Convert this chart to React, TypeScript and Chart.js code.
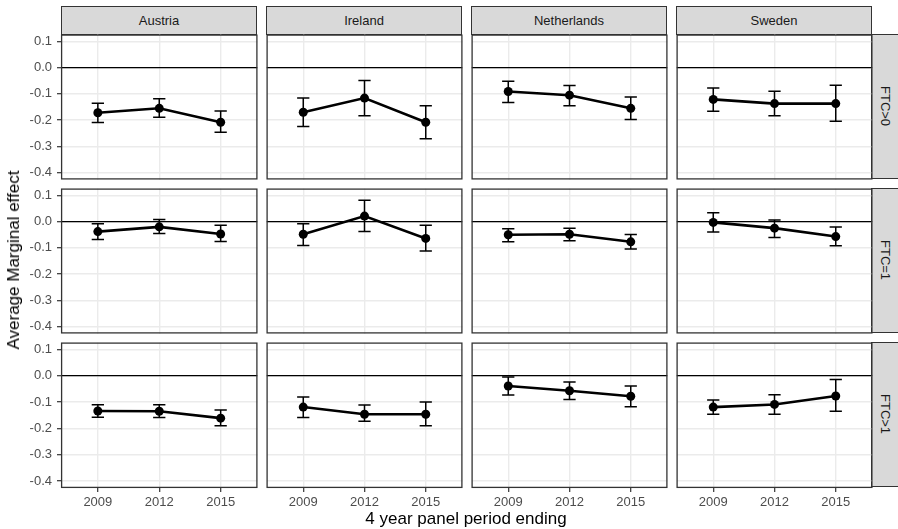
import React, { useEffect, useRef } from "react";
import { Chart, registerables } from "chart.js";

Chart.register(...registerables);

// ---------- data ----------
const countries = ["Austria", "Ireland", "Netherlands", "Sweden"];
const groups = ["FTC>0", "FTC=1", "FTC>1"];
const years = [2009, 2012, 2015];
const xTickLabels = ["2009", "2012", "2015"];
const yTicks = [-0.4, -0.3, -0.2, -0.1, 0.0, 0.1];

// rows: country (Austria, Ireland, Netherlands, Sweden); columns: 2009, 2012, 2015
const ftc0Est = [
  [-0.172, -0.155, -0.208],
  [-0.170, -0.116, -0.208],
  [-0.091, -0.105, -0.155],
  [-0.121, -0.137, -0.137],
];
const ftc0Lo = [
  [-0.209, -0.189, -0.246],
  [-0.224, -0.183, -0.271],
  [-0.133, -0.145, -0.198],
  [-0.166, -0.183, -0.204],
];
const ftc0Hi = [
  [-0.136, -0.119, -0.165],
  [-0.116, -0.049, -0.145],
  [-0.052, -0.068, -0.112],
  [-0.078, -0.090, -0.067],
];

const ftc1Est = [
  [-0.038, -0.020, -0.047],
  [-0.048, 0.021, -0.064],
  [-0.050, -0.048, -0.077],
  [-0.003, -0.025, -0.057],
];
const ftc1Lo = [
  [-0.068, -0.045, -0.076],
  [-0.091, -0.038, -0.112],
  [-0.077, -0.073, -0.104],
  [-0.040, -0.061, -0.092],
];
const ftc1Hi = [
  [-0.008, 0.008, -0.014],
  [-0.008, 0.081, -0.014],
  [-0.027, -0.025, -0.049],
  [0.034, 0.006, -0.021],
];

const ftcGt1Est = [
  [-0.134, -0.135, -0.161],
  [-0.119, -0.146, -0.146],
  [-0.039, -0.057, -0.078],
  [-0.119, -0.109, -0.077],
];
const ftcGt1Lo = [
  [-0.158, -0.159, -0.190],
  [-0.159, -0.173, -0.190],
  [-0.073, -0.090, -0.118],
  [-0.146, -0.146, -0.135],
];
const ftcGt1Hi = [
  [-0.110, -0.110, -0.130],
  [-0.081, -0.111, -0.100],
  [-0.005, -0.024, -0.039],
  [-0.092, -0.072, -0.014],
];

const estByGroup = [ftc0Est, ftc1Est, ftcGt1Est];
const loByGroup = [ftc0Lo, ftc1Lo, ftcGt1Lo];
const hiByGroup = [ftc0Hi, ftc1Hi, ftcGt1Hi];

// ---------- layout / style ----------
const FONT = "'Liberation Sans', Arial, Helvetica, sans-serif";
const colLeft = [61, 266, 471, 676];
const rowTop = [34, 188, 342];
const PW = 196;
const PH = 145;
const Y_AXIS_W = 61;
const X_AXIS_H = 40;
const X_MIN = 2007.2;
const X_MAX = 2016.8;
const Y_MIN = -0.426;
const Y_MAX = 0.126;
const CAP_HALF = 0.3; // in x units (years)

const facetPlugin = {
  id: "facet",
  beforeDatasetsDraw(chart: any, _args: any, opts: any) {
    const { ctx, chartArea: a, scales } = chart;
    const x = scales.x;
    const y = scales.y;
    ctx.save();
    ctx.beginPath();
    ctx.rect(a.left, a.top, a.right - a.left, a.bottom - a.top);
    ctx.clip();
    // zero reference line
    const y0 = y.getPixelForValue(0);
    ctx.beginPath();
    ctx.strokeStyle = "#000000";
    ctx.lineWidth = 1.2;
    ctx.moveTo(a.left, y0);
    ctx.lineTo(a.right, y0);
    ctx.stroke();
    // error bars
    ctx.strokeStyle = "#000000";
    ctx.lineWidth = 1.5;
    const lo: number[] = opts.lo || [];
    const hi: number[] = opts.hi || [];
    years.forEach((yr, i) => {
      const px = x.getPixelForValue(yr);
      const pl = x.getPixelForValue(yr - CAP_HALF);
      const pr = x.getPixelForValue(yr + CAP_HALF);
      const pLo = y.getPixelForValue(lo[i]);
      const pHi = y.getPixelForValue(hi[i]);
      ctx.beginPath();
      ctx.moveTo(px, pLo);
      ctx.lineTo(px, pHi);
      ctx.moveTo(pl, pHi);
      ctx.lineTo(pr, pHi);
      ctx.moveTo(pl, pLo);
      ctx.lineTo(pr, pLo);
      ctx.stroke();
    });
    ctx.restore();
  },
  afterDraw(chart: any) {
    const { ctx, chartArea: a } = chart;
    ctx.save();
    ctx.strokeStyle = "#333333";
    ctx.lineWidth = 1.3;
    ctx.strokeRect(a.left + 0.6, a.top + 0.6, a.right - a.left - 1.2, a.bottom - a.top - 1.2);
    ctx.restore();
  },
};

function Panel({ row, col }: { row: number; col: number }) {
  const ref = useRef<HTMLCanvasElement | null>(null);
  const showY = col === 0;
  const showX = row === groups.length - 1;
  const w = PW + (showY ? Y_AXIS_W : 0);
  const h = PH + (showX ? X_AXIS_H : 0);
  const left = colLeft[col] - (showY ? Y_AXIS_W : 0);
  const top = rowTop[row];

  useEffect(() => {
    const canvas = ref.current;
    if (!canvas) return;
    const est = estByGroup[row][col];
    const chart = new Chart(canvas, {
      type: "line",
      data: {
        datasets: [
          {
            data: years.map((yr, i) => ({ x: yr, y: est[i] })),
            borderColor: "#000000",
            backgroundColor: "#000000",
            borderWidth: 2.6,
            pointRadius: 4.5,
            pointBackgroundColor: "#000000",
            pointBorderWidth: 0,
            tension: 0,
          },
        ],
      },
      options: {
        responsive: false,
        maintainAspectRatio: false,
        animation: false,
        devicePixelRatio: 1,
        layout: { padding: 0 },
        plugins: {
          legend: { display: false },
          tooltip: { enabled: false },
          facet: { lo: loByGroup[row][col], hi: hiByGroup[row][col] },
        } as any,
        scales: {
          x: {
            type: "linear",
            min: X_MIN,
            max: X_MAX,
            afterBuildTicks: (s: any) => {
              s.ticks = years.map((v) => ({ value: v }));
            },
            afterFit: (s: any) => {
              s.height = showX ? X_AXIS_H : 0;
              s.paddingLeft = 0;
              s.paddingRight = 0;
              s.paddingTop = 0;
              s.paddingBottom = 0;
            },
            ticks: {
              display: showX,
              autoSkip: false,
              maxRotation: 0,
              padding: 3,
              color: "#4D4D4D",
              font: { family: FONT, size: 13 },
              callback: (v: any) => {
                const k = years.indexOf(Number(v));
                return k >= 0 ? xTickLabels[k] : "";
              },
            },
            grid: {
              color: "#EBEBEB",
              lineWidth: 1.4,
              drawTicks: true,
              tickLength: 4,
              tickColor: showX ? "#333333" : "rgba(0,0,0,0)",
              tickWidth: 1.2,
            },
            border: { display: false },
          },
          y: {
            type: "linear",
            min: Y_MIN,
            max: Y_MAX,
            afterBuildTicks: (s: any) => {
              s.ticks = yTicks.map((v) => ({ value: v }));
            },
            afterFit: (s: any) => {
              s.width = showY ? Y_AXIS_W : 0;
              s.paddingLeft = 0;
              s.paddingRight = 0;
              s.paddingTop = 0;
              s.paddingBottom = 0;
            },
            ticks: {
              display: showY,
              autoSkip: false,
              padding: 5,
              color: "#4D4D4D",
              font: { family: FONT, size: 13 },
              callback: (v: any) => Number(v).toFixed(1),
            },
            grid: {
              color: "#EBEBEB",
              lineWidth: 1.4,
              drawTicks: true,
              tickLength: 4,
              tickColor: showY ? "#333333" : "rgba(0,0,0,0)",
              tickWidth: 1.2,
            },
            border: { display: false },
          },
        },
      },
      plugins: [facetPlugin],
    } as any);

    // make the plot area land exactly on the facet cell
    for (let pass = 0; pass < 3; pass++) {
      const a = chart.chartArea;
      const dw = PW - (a.right - a.left);
      const dh = PH - (a.bottom - a.top);
      if (Math.abs(dw) < 0.5 && Math.abs(dh) < 0.5) break;
      const nw = Math.round(chart.width + dw);
      const nh = Math.round(chart.height + dh);
      canvas.style.width = nw + "px";
      canvas.style.height = nh + "px";
      chart.resize(nw, nh);
    }
    const a2 = chart.chartArea;
    canvas.style.left = colLeft[col] - a2.left + "px";
    canvas.style.top = rowTop[row] - a2.top + "px";

    return () => chart.destroy();
  }, [row, col]);

  return (
    <canvas
      ref={ref}
      width={w}
      height={h}
      style={{ position: "absolute", left, top, width: w, height: h }}
    />
  );
}

export default function App() {
  return (
    <div
      style={{
        position: "absolute",
        left: 0,
        top: 0,
        width: 898,
        height: 529,
        background: "#FFFFFF",
        overflow: "hidden",
        fontFamily: FONT,
      }}
    >
      {countries.map((c, ci) => (
        <div
          key={"strip-" + c}
          style={{
            position: "absolute",
            left: colLeft[ci],
            top: 6,
            width: PW,
            height: 29,
            boxSizing: "border-box",
            border: "1px solid #333333",
            background: "#D9D9D9",
            color: "#1A1A1A",
            fontSize: 13,
            display: "flex",
            alignItems: "center",
            justifyContent: "center",
          }}
        >
          {c}
        </div>
      ))}
      {groups.map((g, ri) => (
        <div
          key={"rstrip-" + g}
          style={{
            position: "absolute",
            left: 871,
            top: rowTop[ri],
            width: 29,
            height: PH,
            boxSizing: "border-box",
            border: "1px solid #333333",
            background: "#D9D9D9",
            color: "#1A1A1A",
            fontSize: 13,
            display: "flex",
            alignItems: "center",
            justifyContent: "center",
          }}
        >
          <span style={{ writingMode: "vertical-rl", whiteSpace: "nowrap" }}>{g}</span>
        </div>
      ))}
      {groups.map((g, ri) =>
        countries.map((c, ci) => <Panel key={g + c} row={ri} col={ci} />)
      )}
      <div
        style={{
          position: "absolute",
          left: 14,
          top: 260,
          transform: "translate(-50%, -50%) rotate(-90deg)",
          whiteSpace: "nowrap",
          fontSize: 17,
          color: "#000000",
        }}
      >
        Average Marginal effect
      </div>
      <div
        style={{
          position: "absolute",
          left: 466,
          top: 519,
          transform: "translate(-50%, -50%)",
          whiteSpace: "nowrap",
          fontSize: 17,
          color: "#000000",
        }}
      >
        4 year panel period ending
      </div>
    </div>
  );
}
